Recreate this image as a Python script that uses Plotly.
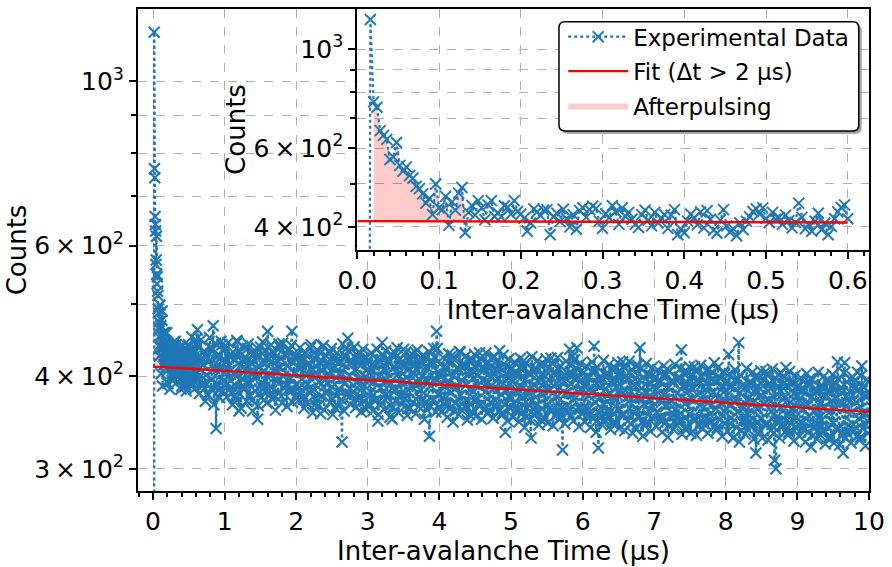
import numpy as np
import plotly.graph_objects as go

# ---------------- data ----------------
# bin just before the dead-time edge (count far below the axis)
pre_x = [0.012]
pre_counts = [1]

# early bins (shown in the inset): start 0.016 us, width 0.004 us
early_start = 0.016
early_step = 0.004
early_counts = [
    1165, 762, 741, 657, 641, 628, 566, 574, 618, 549,
    533, 545, 521, 514, 493, 487, 474, 452, 463, 426,
    499, 441, 437, 468, 403, 455, 436, 476, 490, 388,
    431, 447, 425, 458, 441, 415, 448, 458, 422, 430,
    421, 446, 443, 427, 458, 433, 427, 418, 391, 408,
    439, 432, 424, 436, 437, 384, 421, 429, 411, 438,
    417, 400, 426, 395, 435, 441, 420, 437, 445, 440,
    412, 397, 428, 419, 446, 433, 405, 441, 422, 431,
    416, 405, 399, 426, 436, 414, 402, 431, 408, 419,
    426, 397, 425, 437, 384, 395, 388, 412, 427, 419,
    404, 432, 398, 435, 416, 393, 387, 414, 437, 402,
    389, 396, 382, 408, 394, 412, 421, 433, 439, 427,
    441, 418, 409, 431, 416, 420, 405, 425, 413, 398,
    409, 452, 420, 396, 404, 391, 412, 429, 394, 408,
    384, 401, 417, 432, 442, 448, 417,
]

# later bins (main plot only), even set: 0.62, 0.64, ... 10.00 us
late_a_start = 0.62
late_step = 0.02
late_counts_a = [
    462, 398, 421, 389, 415, 432, 401, 378, 419, 437,
    396, 468, 410, 340, 425, 383, 412, 441, 394, 405,
    418, 391, 426, 407, 379, 431, 402, 388, 445, 359,
    414, 397, 422, 385, 409, 436, 393, 417, 371, 404,
    428, 399, 350, 413, 438, 392, 406, 381, 424, 460,
    402, 387, 419, 432, 376, 408, 395, 442, 411, 368,
    400, 427, 389, 414, 435, 397, 460, 384, 405, 421,
    411, 386, 420, 397, 373, 429, 404, 390, 416, 437,
    382, 401, 366, 412, 425, 393, 356, 408, 440, 395,
    379, 418, 402, 431, 387, 410, 363, 398, 422, 384,
    405, 326, 415, 392, 436, 450, 401, 377, 419, 389,
    407, 428, 371, 396, 414, 385, 423, 399, 361, 409,
    404, 381, 415, 393, 370, 422, 348, 399, 386, 444,
    408, 377, 396, 419, 389, 365, 350, 411, 430, 384,
    402, 375, 416, 394, 435, 380, 398, 362, 409, 421,
    387, 403, 431, 372, 392, 414, 383, 401, 426, 367,
    395, 410, 332, 388, 419, 436, 397, 460, 378, 404,
    399, 374, 412, 388, 365, 418, 393, 380, 427, 401,
    359, 386, 409, 432, 377, 394, 369, 415, 390, 403,
    355, 384, 421, 398, 372, 411, 389, 430, 366, 395,
    407, 381, 417, 392, 360, 400, 424, 385, 371, 409,
    396, 433, 378, 357, 391, 336, 383, 402, 375, 408,
    393, 368, 405, 382, 359, 411, 387, 374, 420, 396,
    353, 380, 402, 330, 371, 389, 364, 409, 384, 397,
    349, 378, 415, 392, 366, 404, 383, 423, 360, 388,
    401, 375, 410, 386, 355, 318, 394, 379, 365, 403,
    435, 390, 426, 372, 398, 437, 381, 361, 395, 384,
    388, 363, 399, 377, 354, 406, 382, 439, 369, 391,
    320, 375, 397, 348, 366, 384, 359, 403, 379, 392,
    345, 373, 410, 387, 361, 399, 378, 418, 355, 383,
    396, 370, 405, 381, 335, 389, 413, 374, 360, 437,
    385, 332, 367, 346, 380, 402, 372, 391, 364, 397,
    383, 358, 394, 372, 349, 400, 377, 364, 409, 386,
    343, 370, 392, 355, 361, 379, 354, 398, 434, 387,
    340, 368, 405, 382, 356, 394, 373, 412, 350, 378,
    391, 365, 400, 376, 345, 384, 408, 369, 355, 396,
    380, 417, 362, 341, 375, 398, 367, 386, 359, 392,
    377, 428, 388, 366, 330, 395, 371, 358, 444, 380,
    338, 364, 386, 350, 356, 373, 348, 392, 369, 381,
    315, 362, 399, 376, 351, 388, 367, 406, 345, 372,
    385, 359, 394, 308, 300, 378, 402, 363, 349, 390,
    374, 411, 356, 336, 369, 392, 361, 380, 353, 386,
    372, 347, 383, 361, 339, 390, 366, 353, 397, 375,
    333, 359, 381, 345, 351, 368, 343, 387, 364, 376,
    330, 357, 393, 371, 346, 383, 362, 418, 340, 367,
    380, 315, 417, 365, 335, 373, 397, 358, 344, 385,
    369, 405, 351, 331, 413, 387, 356, 375, 348, 381,
]

# later bins, odd set: 0.63, 0.65, ... 9.99 us (these fill the band's edges)
late_b_start = 0.63
late_counts_b = [
    439, 379, 448, 388, 432, 370, 425, 377, 451, 385,
    436, 366, 443, 391, 428, 374, 446, 381, 422,
    435, 375, 444, 384, 428, 366, 421, 373, 447, 381,
    432, 362, 439, 387, 424, 370, 442, 377, 418, 359,
    430, 382, 437, 365, 426, 374, 445, 386, 434, 368,
    422, 378, 441, 372, 429, 360, 420, 380, 438, 376,
    443, 385, 427, 364, 433, 383, 440, 369, 425, 375,
    426, 371, 437, 379, 420, 362, 431, 368, 416, 380,
    441, 357, 424, 373, 434, 365, 418, 376, 439, 360,
    427, 382, 415, 369, 436, 355, 422, 377, 430, 364,
    419, 372, 442, 359, 425, 378, 433, 367, 417, 381,
    438, 363, 421, 374, 429, 358, 435, 370, 423, 366,
    421, 366, 430, 359, 414, 371, 435, 355, 419, 368,
    426, 361, 433, 374, 417, 352, 428, 363, 412, 370,
    437, 357, 422, 367, 415, 373, 431, 354, 420, 362,
    429, 369, 413, 356, 434, 364, 418, 372, 427, 350,
    424, 360, 432, 365, 416, 371, 425, 358, 436, 363,
    415, 358, 424, 366, 409, 352, 429, 362, 418, 347,
    421, 368, 411, 355, 431, 360, 414, 364, 426, 349,
    419, 367, 408, 357, 428, 353, 416, 365, 423, 350,
    412, 361, 430, 356, 417, 369, 407, 351, 425, 363,
    420, 359, 410, 354, 427, 366, 413, 348, 422, 362,
    410, 352, 418, 360, 404, 347, 423, 356, 412, 341,
    416, 362, 405, 349, 425, 355, 409, 358, 420, 344,
    414, 361, 402, 351, 422, 346, 411, 359, 417, 343,
    406, 354, 424, 350, 413, 363, 401, 345, 419, 357,
    415, 353, 403, 348, 421, 360, 408, 342, 416, 356,
    404, 347, 413, 355, 398, 341, 418, 351, 407, 336,
    411, 357, 400, 344, 420, 349, 403, 353, 415, 339,
    409, 356, 397, 346, 417, 340, 406, 354, 412, 338,
    401, 348, 419, 345, 408, 358, 396, 340, 414, 352,
    410, 347, 399, 343, 416, 355, 402, 337, 411, 350,
    399, 342, 408, 350, 393, 336, 413, 346, 402, 331,
    406, 352, 395, 339, 415, 344, 398, 348, 410, 334,
    404, 351, 392, 341, 412, 335, 401, 349, 407, 333,
    396, 343, 414, 340, 403, 353, 391, 335, 409, 347,
    405, 342, 394, 338, 411, 350, 397, 332, 406, 345,
    394, 337, 403, 345, 388, 331, 408, 341, 397, 326,
    401, 347, 390, 334, 410, 339, 393, 343, 405, 329,
    399, 346, 387, 336, 407, 330, 396, 344, 402, 328,
    391, 338, 409, 335, 398, 348, 386, 330, 404, 342,
    400, 337, 389, 333, 406, 345, 392, 327, 401, 340,
    389, 332, 398, 340, 383, 326, 403, 336, 392, 321,
    396, 342, 385, 329, 405, 334, 388, 338, 400, 324,
    394, 341, 382, 331, 402, 325, 391, 339, 397, 323,
    386, 333, 404, 330, 393, 343, 381, 325, 399, 337,
    395, 332, 384, 328, 401, 340, 387, 322, 396, 335,
]

# exponential fit (dt > 2 us), read at a few times
fit_x = [0.0, 0.6, 10.0]
fit_y = [412, 409, 358]

# afterpulsing region ends where the data meet the fit
afterpulse_end = 0.132

# ticks
main_xticks = list(range(0, 11))
main_yticks = [300, 400, 600, 1000]
main_ylabels = ["3\u2009×\u200910<sup>2</sup>", "4\u2009×\u200910<sup>2</sup>",
                "6\u2009×\u200910<sup>2</sup>", "10<sup>3</sup>"]
main_yminor = [500, 700, 800, 900]
inset_xticks = [0.0, 0.1, 0.2, 0.3, 0.4, 0.5, 0.6]
inset_yticks = [400, 600, 1000]
inset_ylabels = ["4\u2009×\u200910<sup>2</sup>", "6\u2009×\u200910<sup>2</sup>", "10<sup>3</sup>"]
inset_yminor = [500, 700, 800, 900]

# ---------------- assemble ----------------
early_x = early_start + early_step * np.arange(len(early_counts))
late_xa = late_a_start + late_step * np.arange(len(late_counts_a))
late_xb = late_b_start + late_step * np.arange(len(late_counts_b))
late_x = np.concatenate([late_xa, late_xb])
late_y = np.concatenate([late_counts_a, late_counts_b])
order = np.argsort(late_x)
late_x, late_y = late_x[order], late_y[order]

all_x = np.concatenate([pre_x, early_x, late_x])
all_y = np.concatenate([pre_counts, early_counts, late_y])

ap_mask = (early_x > early_start) & (early_x <= afterpulse_end)
ap_x = early_x[ap_mask]
ap_y = np.maximum(np.array(early_counts)[ap_mask], fit_y[0])

BLUE = "#1f77b4"
RED = "#ff0000"
FONT = "DejaVu Sans"
GRID = "#b0b0b0"

fig = go.Figure()

def add_set(xa, ya, xs, ys, fx, fy, show, mw, lw):
    fig.add_trace(go.Scatter(x=[ap_x[0], ap_x[-1]], y=[fit_y[0], fit_y[0]],
                             mode="lines", line=dict(width=0, color="rgba(0,0,0,0)"),
                             showlegend=False, hoverinfo="skip", xaxis=xa, yaxis=ya))
    fig.add_trace(go.Scatter(x=ap_x, y=ap_y, mode="lines", fill="tonexty",
                             fillcolor="rgba(255,0,0,0.2)", line=dict(width=0, color="rgba(255,0,0,0)"),
                             name="Afterpulsing", showlegend=show, legendrank=3,
                             legendgroup="c", hoverinfo="skip", xaxis=xa, yaxis=ya))
    fig.add_trace(go.Scatter(x=xs, y=ys, mode="lines+markers",
                             line=dict(color=BLUE, width=lw, dash="dot"),
                             marker=dict(symbol="x-thin", size=11, line=dict(color=BLUE, width=mw)),
                             name="Experimental Data", showlegend=show, legendrank=1,
                             legendgroup="a", hoverinfo="skip", xaxis=xa, yaxis=ya))
    fig.add_trace(go.Scatter(x=fx, y=fy, mode="lines", line=dict(color=RED, width=2.4),
                             name="Fit (Δt > 2 µs)", showlegend=show, legendrank=2,
                             legendgroup="b", hoverinfo="skip", xaxis=xa, yaxis=ya))

add_set("x", "y", all_x, all_y, fit_x, fit_y, False, 2.1, 2.4)
n_inset = len(pre_x) + len(early_counts)
add_set("x2", "y2", all_x[:n_inset], all_y[:n_inset], fit_x[:2], fit_y[:2], True, 1.9, 2.2)

axis_common = dict(
    showline=True, linewidth=2, linecolor="black", mirror=True,
    ticks="outside", ticklen=7, tickwidth=2, tickcolor="black",
    showgrid=True, gridcolor=GRID, griddash="dash", gridwidth=1.3,
    zeroline=False, tickfont=dict(family=FONT, size=25, color="black"),
)

def log_minor(vals):
    return dict(tickmode="array", tickvals=vals, ticks="outside", ticklen=5, tickwidth=1.5,
                tickcolor="black", showgrid=True, gridcolor=GRID, griddash="dash", gridwidth=1.3)

# legend frame (rounded, with a soft shadow) in paper coordinates
W, H = 734.0, 486.0
lx0, lx1, ly0, ly1 = 0.5759, 0.9860, 0.7469, 0.9733
rx, ry = 6 / W, 6 / H

def rounded(x0, x1, y0, y1):
    return (f"M{x0+rx},{y0} L{x1-rx},{y0} Q{x1},{y0} {x1},{y0+ry} "
            f"L{x1},{y1-ry} Q{x1},{y1} {x1-rx},{y1} L{x0+rx},{y1} "
            f"Q{x0},{y1} {x0},{y1-ry} L{x0},{y0+ry} Q{x0},{y0} {x0+rx},{y0} Z")

shapes = [
    dict(type="path", xref="paper", yref="paper", layer="above",
         path=rounded(lx0 + 3 / W, lx1 + 3 / W, ly0 - 3 / H, ly1 - 3 / H),
         fillcolor="rgba(0,0,0,0.35)", line=dict(width=0)),
    dict(type="path", xref="paper", yref="paper", layer="above",
         path=rounded(lx0, lx1, ly0, ly1),
         fillcolor="white", line=dict(color="black", width=1.5)),
]

fig.update_layout(
    width=892, height=567, autosize=False,
    margin=dict(l=138, r=20, t=7, b=74),
    paper_bgcolor="white", plot_bgcolor="white",
    font=dict(family=FONT, color="black"),
    xaxis=dict(domain=[0, 1], range=[-0.21, 10.0], tickvals=main_xticks,
               title=dict(text="Inter-avalanche Time (µs)", font=dict(size=26), standoff=6),
               minor=dict(dtick=0.2, ticks="outside", ticklen=4, tickwidth=1.5, tickcolor="black", showgrid=False),
               **axis_common),
    yaxis=dict(domain=[0, 1], type="log", range=[np.log10(280), np.log10(1252)],
               tickvals=main_yticks, ticktext=main_ylabels,
               minor=log_minor(main_yminor),
               title=dict(text="Counts", font=dict(size=26), standoff=0),
               **axis_common),
    xaxis2=dict(domain=[0.3, 1], anchor="y2", range=[0.0, 0.626], tickvals=inset_xticks,
                tickformat=".1f",
                title=dict(text="Inter-avalanche Time (µs)", font=dict(size=26), standoff=6),
                minor=dict(dtick=0.02, ticks="outside", ticklen=4, tickwidth=1.5, tickcolor="black", showgrid=False),
                **axis_common),
    yaxis2=dict(domain=[0.5, 1], anchor="x2", type="log", range=[np.log10(355), np.log10(1230)],
                tickvals=inset_yticks, ticktext=inset_ylabels,
                minor=log_minor(inset_yminor),
                title=dict(text="Counts", font=dict(size=26), standoff=0),
                **axis_common),
    legend=dict(x=0.5817, y=0.987, xanchor="left", yanchor="top",
                bgcolor="rgba(0,0,0,0)", borderwidth=0,
                font=dict(family=FONT, size=23, color="black"),
                itemwidth=60, tracegroupgap=1.5, traceorder="grouped"),
    shapes=shapes,
    showlegend=True,
)

fig.write_html("out.html")
